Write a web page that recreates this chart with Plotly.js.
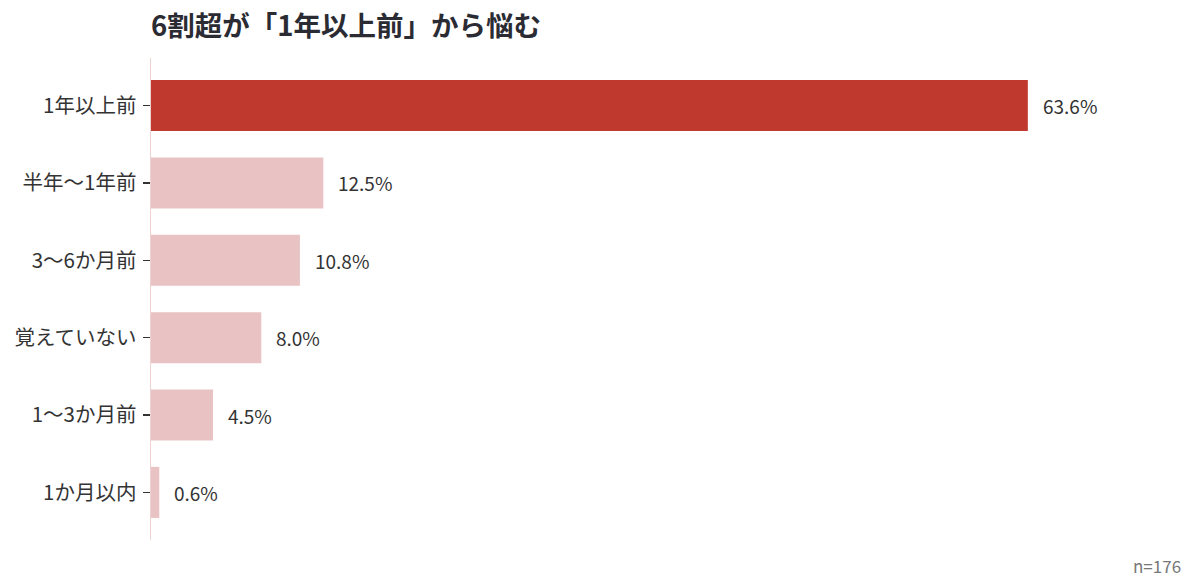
<!DOCTYPE html>
<html><head><meta charset="utf-8">
<script src="https://cdn.plot.ly/plotly-3.0.1.min.js"></script>
<style>html,body{margin:0;padding:0;background:#fff}#chart{width:1200px;height:588px}</style>
</head><body><div id="chart"></div>
<script>
const categories = ["1年以上前","半年〜1年前","3〜6か月前","覚えていない","1〜3か月前","1か月以内"];
const values = [63.6, 12.5, 10.8, 8.0, 4.5, 0.6];
const labels = ["63.6%","12.5%","10.8%","8.0%","4.5%","0.6%"];
const titleText = "6割超が「1年以上前」から悩む";
const noteText = "n=176";

const colors = values.map((v,i)=> i===0 ? "#c0392f" : "#e9c3c3");
const font = "'Noto Sans CJK JP', 'Noto Sans', sans-serif";

const valueAnns = values.map((v,i)=>({
  x: v, y: categories[i], xref: "x", yref: "y", text: labels[i],
  xanchor: "left", yanchor: "middle", xshift: 13, showarrow: false,
  font: {family: font, size: 19, color: "#333"}
}));

Plotly.newPlot("chart", [{
  type: "bar", orientation: "h",
  x: values, y: categories,
  marker: {color: colors, line: {width: 0}},
  hoverinfo: "none"
}], {
  width: 1200, height: 588,
  margin: {l: 151, r: 15, t: 58, b: 48},
  paper_bgcolor: "#fff", plot_bgcolor: "#fff",
  bargap: 0.34,
  font: {family: font, color: "#333"},
  title: {text: "<b>" + titleText + "</b>", x: 151/1200, xanchor: "left", y: 0.955, yanchor: "middle",
          font: {family: font, size: 27.5, color: "#2b2b33"}},
  xaxis: {range: [0, 75], visible: false, fixedrange: true},
  yaxis: {type: "category", range: [5.615, -0.615], showline: true, linecolor: "#f0d2d2", linewidth: 1.5,
          ticks: "outside", ticklen: 7, tickcolor: "#333", tickwidth: 1.5,
          showgrid: false, zeroline: false, ticklabelstandoff: 2,
          tickfont: {family: font, size: 20.5, color: "#333"}},
  showlegend: false,
  annotations: valueAnns.concat([{text: noteText, xref: "paper", yref: "paper", x: 1.0, y: -0.052, xanchor: "right", yanchor: "middle",
                 showarrow: false, font: {family: font, size: 17, color: "#777"}, xshift: -2}])
}, {displayModeBar: false, staticPlot: true});
</script></body></html>
